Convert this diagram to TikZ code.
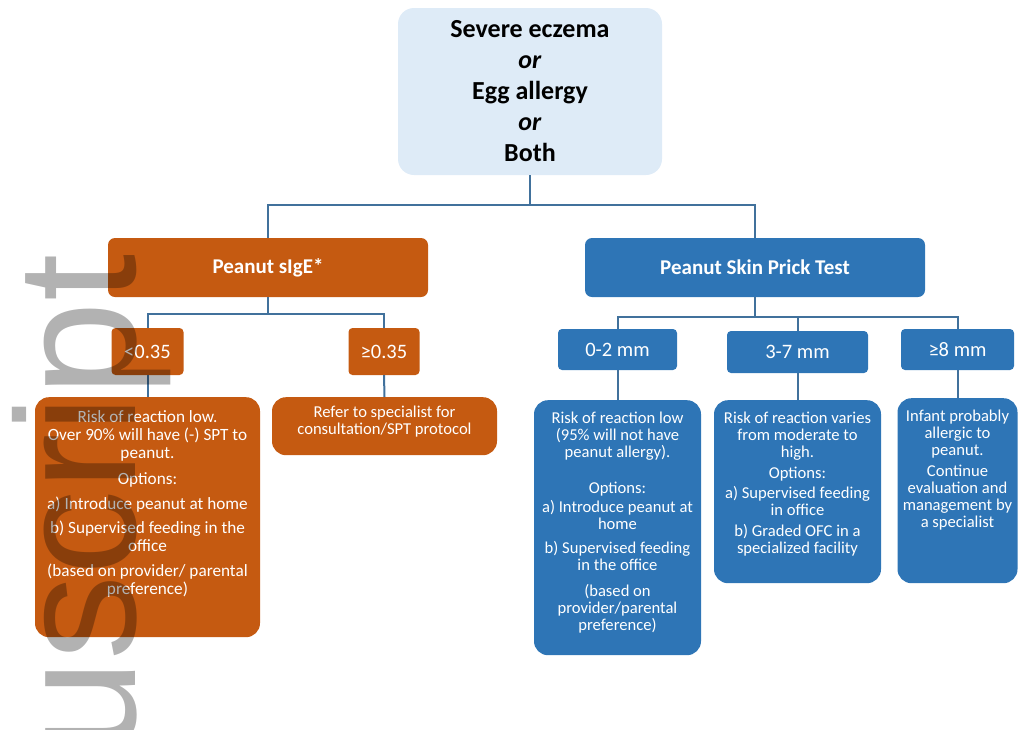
\documentclass[tikz,border=0pt]{standalone}
\usepackage{fontspec}
\setmainfont{Carlito}
\newfontfamily\markfont{Liberation Sans}
\definecolor{sigeorange}{HTML}{C55A11}
\definecolor{sptblue}{HTML}{2E75B6}
\definecolor{startfill}{HTML}{DEEBF7}
\definecolor{linkblue}{HTML}{41719C}
\newcommand{\boxtext}[3]{\parbox[t][#1][t]{#2}{\centering #3}}

\begin{document}
\begin{tikzpicture}[x=1pt,y=-1pt,
    link/.style={linkblue,line width=2pt},
    startbox/.style={fill=startfill,rounded corners=16pt,minimum width=264pt,
      minimum height=167pt,align=center,font=\bfseries\fontsize{26}{31}\selectfont},
    testbox/.style={fill=#1,rounded corners=7pt,minimum height=59pt,text=white,
      font=\bfseries\fontsize{21}{25}\selectfont},
    cutbox/.style={fill=#1,rounded corners=4pt,text=white,
      font=\fontsize{20.5}{24}\selectfont},
    advice/.style={fill=#1,rounded corners=14pt,anchor=north,text=white,
      inner xsep=5pt,inner ysep=12pt,font=\fontsize{16.6}{17}\selectfont}]
  \useasboundingbox (0,0) rectangle (1021,729);

  \node[startbox] (top) at (530,91.5) {Severe eczema\\ \textit{or}\\ Egg allergy\\ \textit{or}\\ Both};

  % the two tests
  \node[testbox=sigeorange,minimum width=320pt] (sige) at (268,267.5) {Peanut sIgE*};
  \node[testbox=sptblue,minimum width=340pt] (spt) at (755,267.5) {Peanut Skin Prick Test};

  % cut-off values
  \node[cutbox=sigeorange,minimum width=72pt,minimum height=47pt] (lo) at (147.5,351.5) {<0.35};
  \node[cutbox=sigeorange,minimum width=71pt,minimum height=47pt] (hi) at (384,351.5) {≥0.35};
  \node[cutbox=sptblue,minimum width=119pt,minimum height=41pt] (mm02) at (617.5,349.5) {0-2 mm};
  \node[cutbox=sptblue,minimum width=141pt,minimum height=42pt] (mm37) at (797.5,352) {3-7 mm};
  \node[cutbox=sptblue,minimum width=113pt,minimum height=41pt] (mm8) at (957.5,349.5) {≥8 mm};

  % what to do
  \node[advice=sigeorange,inner ysep=13pt,font=\fontsize{17.2}{18}\selectfont] (risklo) at (147.5,397)
    {\boxtext{214pt}{215pt}{Risk of reaction low.\\
    Over 90\% will have (-) SPT to\\ peanut.\\[8pt] Options:\\[7pt] a) Introduce peanut at home\\[6pt]
    b) Supervised feeding in the\\ office\\[7pt] (based on provider/ parental\\ preference)}};
  \node[advice=sigeorange,inner ysep=9pt] (refer) at (384.5,397) {\boxtext{40pt}{215pt}{Refer to specialist for\\
    consultation/SPT protocol}};
  \node[advice=sptblue] (risk02) at (617.5,400) {\boxtext{231pt}{157pt}{Risk of reaction low\\
    (95\% will not have\\ peanut allergy).\\[19pt] Options:\\[2pt] a) Introduce peanut at\\ home\\[7pt]
    b) Supervised feeding\\ in the office\\[9pt] (based on\\ provider/parental\\ preference)}};
  \node[advice=sptblue] (risk37) at (797.5,400) {\boxtext{159pt}{157pt}{Risk of reaction varies\\
    from moderate to\\ high.\\[4pt] Options:\\[3pt] a) Supervised feeding\\ in office\\[4pt]
    b) Graded OFC in a\\ specialized facility}};
  \node[advice=sptblue] (risk8) at (957.5,398) {\boxtext{161pt}{110pt}{Infant probably\\ allergic to\\
    peanut.\\[4pt] Continue\\ evaluation and\\ management by\\ a specialist}};

  \draw[link] (top.south) -- ++(0,30) -| (sige.north);
  \draw[link] (top.south) -- ++(0,30) -| (spt.north);
  \draw[link] (sige.south) -- ++(0,17) -| (lo.north);
  \draw[link] (sige.south) -- ++(0,17) -| (hi.north);
  \draw[link] (spt.south) -- ++(0,20) -| (mm02.north);
  \draw[link] (spt.south) -- ++(0,20) -| (mm37.north);
  \draw[link] (spt.south) -- ++(0,20) -| (mm8.north);
  \foreach \a/\b in {lo/risklo,hi/refer,mm02/risk02,mm37/risk37,mm8/risk8}
    \draw[link] (\a.south) -- (\b.north);

  % watermark
  \node[opacity=0.3,rotate=90,anchor=base east,inner sep=0pt,
    font=\markfont\fontsize{170}{170}\selectfont] (mark) at (135,254) {uscript};
\end{tikzpicture}
\end{document}
